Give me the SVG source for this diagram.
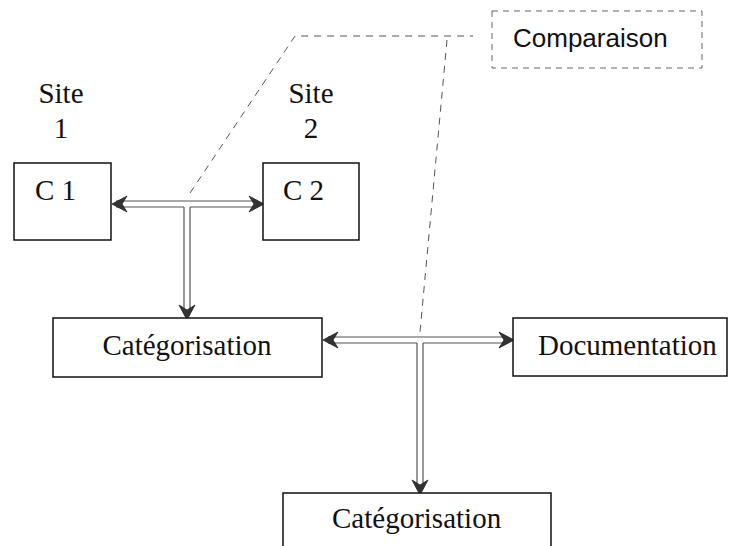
<svg xmlns="http://www.w3.org/2000/svg" width="729" height="546" viewBox="0 0 729 546">
<style>
.box{fill:#fff;stroke:#111;stroke-width:1.5}
.t{font-family:"Liberation Serif","Times New Roman",serif;font-size:29px;fill:#111}
.s{font-family:"Liberation Sans",Arial,sans-serif;font-size:26px;fill:#111}
.dl{stroke:#555;stroke-width:1.2;fill:none}
.dash{stroke:#555;stroke-width:1;fill:none;stroke-dasharray:7 6}
.ax{stroke:none;fill:none}
</style>
<defs>
<marker id="ah" markerUnits="userSpaceOnUse" markerWidth="18" markerHeight="18" refX="16" refY="9" orient="auto">
<path d="M1,1 L16,9 L1,17 L6,9 Z" fill="#333" stroke="#222" stroke-width="0.8"/>
</marker>
</defs>
<rect width="729" height="546" fill="#fff"/>
<g id="connectors">
<polyline class="dash" points="190,193 295,36 473,36"/>
<line class="dash" x1="447" y1="40" x2="420" y2="332"/>
<line class="dl" x1="116" y1="201" x2="257" y2="201"/>
<line class="dl" x1="116" y1="207" x2="184" y2="207"/>
<line class="dl" x1="190" y1="207" x2="257" y2="207"/>
<line class="dl" x1="184" y1="207" x2="184" y2="310"/>
<line class="dl" x1="190" y1="207" x2="190" y2="310"/>
<line class="ax" x1="187" y1="204" x2="112" y2="204" marker-end="url(#ah)"/>
<line class="ax" x1="187" y1="204" x2="264" y2="204" marker-end="url(#ah)"/>
<line class="ax" x1="187" y1="207" x2="187" y2="320" marker-end="url(#ah)"/>
<line class="dl" x1="328" y1="337" x2="507" y2="337"/>
<line class="dl" x1="328" y1="343" x2="417" y2="343"/>
<line class="dl" x1="423" y1="343" x2="507" y2="343"/>
<line class="dl" x1="417" y1="343" x2="417" y2="485"/>
<line class="dl" x1="423" y1="343" x2="423" y2="485"/>
<line class="ax" x1="420" y1="340" x2="323" y2="340" marker-end="url(#ah)"/>
<line class="ax" x1="420" y1="340" x2="514" y2="340" marker-end="url(#ah)"/>
<line class="ax" x1="420" y1="343" x2="420" y2="495" marker-end="url(#ah)"/>
</g>
<g id="site1">
<text class="t" x="61" y="103" text-anchor="middle">Site</text>
<text class="t" x="61" y="138" text-anchor="middle">1</text>
</g>
<g id="site2">
<text class="t" x="311" y="103" text-anchor="middle">Site</text>
<text class="t" x="311" y="138" text-anchor="middle">2</text>
</g>
<g id="c1">
<rect class="box" x="14" y="163" width="97" height="77"/>
<text class="t" x="35" y="200">C 1</text>
</g>
<g id="c2">
<rect class="box" x="263" y="163" width="96" height="77"/>
<text class="t" x="283" y="200">C 2</text>
</g>
<g id="comparaison">
<rect x="492" y="11" width="210" height="57" fill="#fff" stroke="#666" stroke-width="1" stroke-dasharray="6 5"/>
<text class="s" x="513" y="47">Comparaison</text>
</g>
<g id="categorisation1">
<rect class="box" x="53" y="318" width="269" height="59"/>
<text class="t" x="187" y="355" text-anchor="middle">Catégorisation</text>
</g>
<g id="documentation">
<rect class="box" x="513" y="318" width="214" height="58"/>
<text class="t" x="538" y="355">Documentation</text>
</g>
<g id="categorisation2">
<rect class="box" x="283" y="493" width="268" height="60"/>
<text class="t" x="332" y="528">Catégorisation</text>
</g>
</svg>
